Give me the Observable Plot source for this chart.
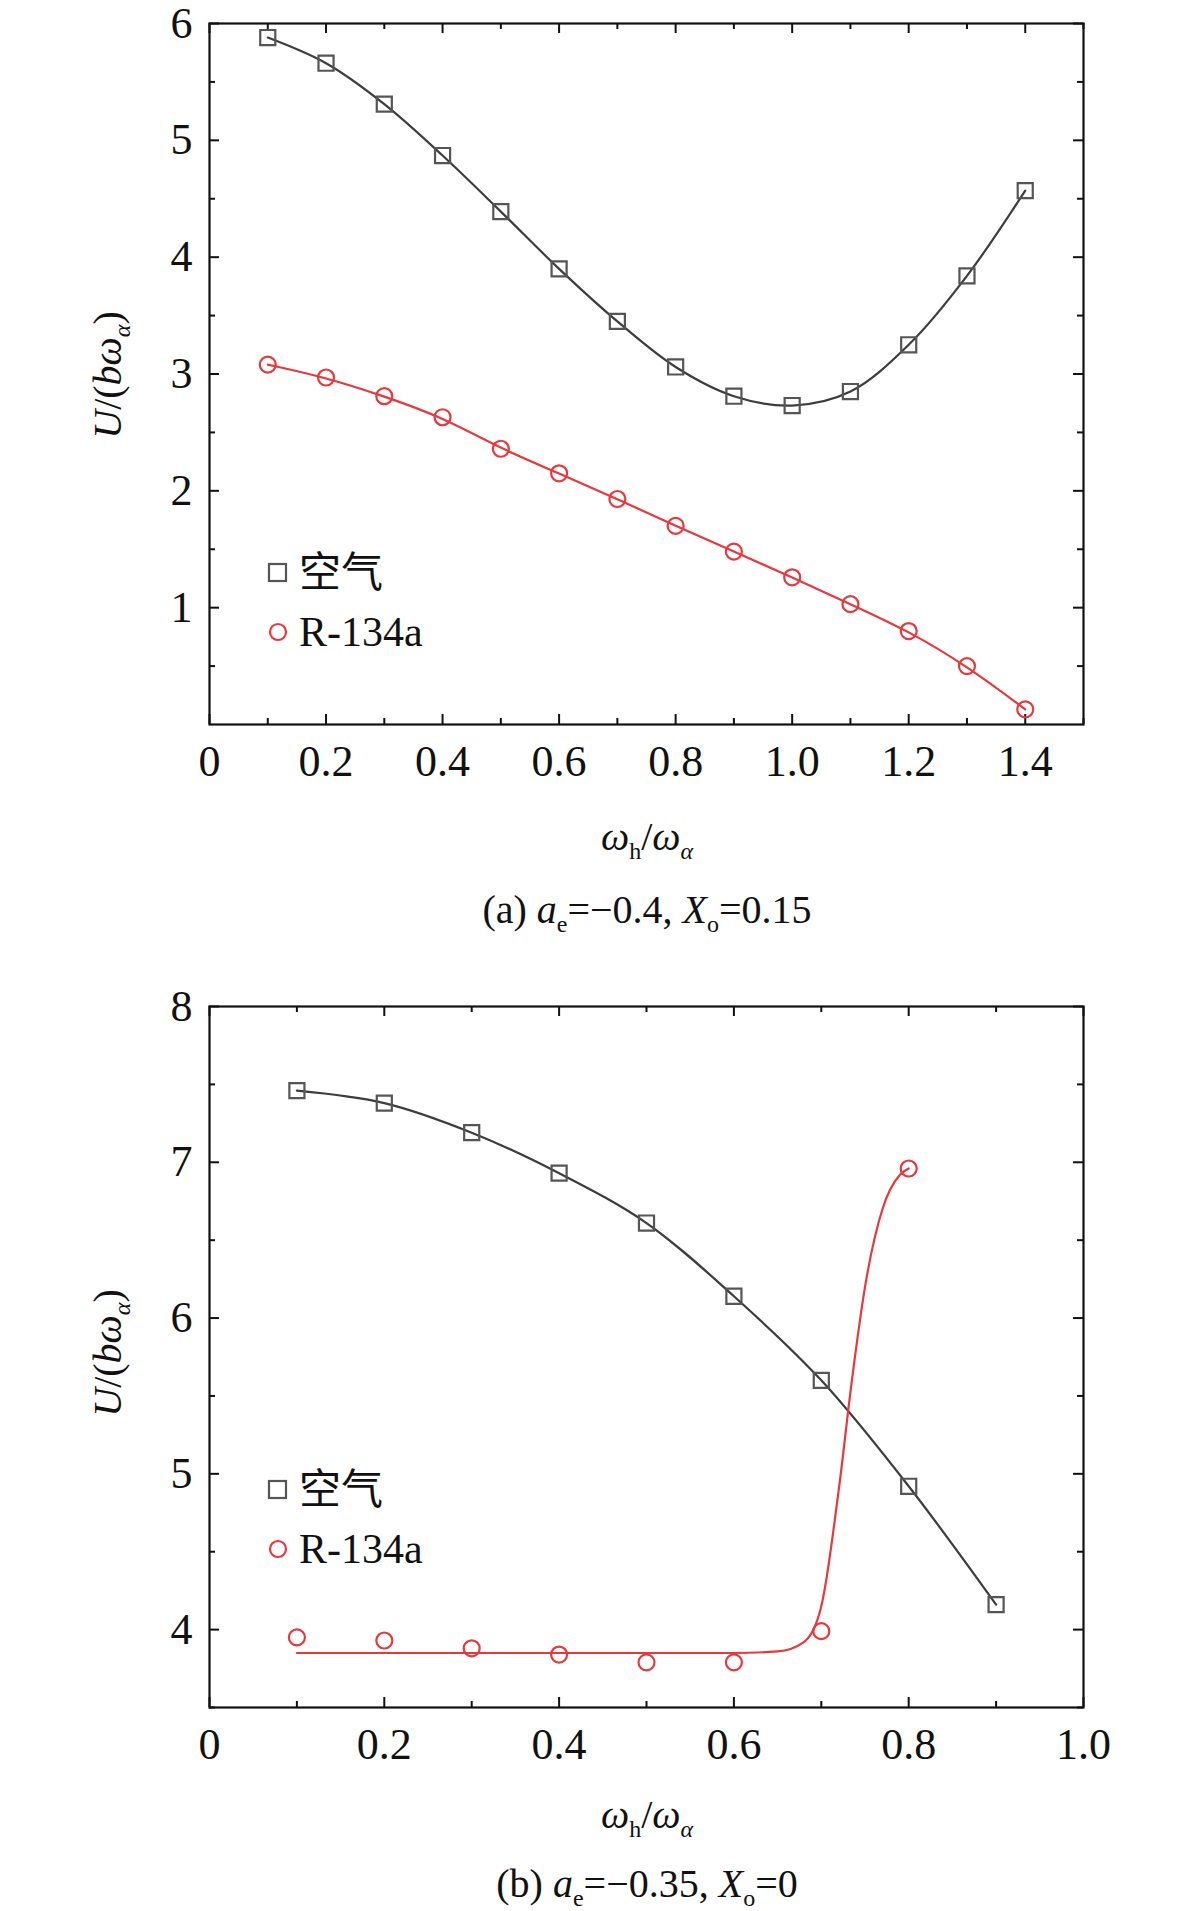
<!DOCTYPE html>
<html><head><meta charset="utf-8">
<script src="https://cdn.jsdelivr.net/npm/d3@7"></script>
<script src="https://cdn.jsdelivr.net/npm/@observablehq/plot@0.6"></script>
<style>
body{margin:0;background:#fff;font-family:"Liberation Serif","Times New Roman","Noto Sans CJK SC",serif;}
#wrap{position:relative;width:1181px;height:1911px;overflow:hidden;}
.abs{position:absolute;white-space:nowrap;color:#111;line-height:1.1;}
.abs sub{line-height:0;}
.ylab{font-size:40px;transform:translate(-50%,-50%) rotate(-90deg);}
.xlab{font-size:40px;transform:translateX(-50%);}
.cap{font-size:40px;transform:translateX(-50%);}
.leg{font-size:42px;display:flex;align-items:center;gap:10px;}
</style></head><body><div id="wrap"></div>
<script>
// ---- panel (a) data ----
const xA = [0.1,0.2,0.3,0.4,0.5,0.6,0.7,0.8,0.9,1.0,1.1,1.2,1.3,1.4];
const airA = [5.88,5.66,5.31,4.87,4.39,3.90,3.45,3.06,2.81,2.73,2.85,3.25,3.84,4.57];
const r134A = [3.08,2.97,2.81,2.63,2.36,2.15,1.93,1.70,1.48,1.26,1.03,0.80,0.50,0.13];
const xTicksA = [0,0.2,0.4,0.6,0.8,1.0,1.2,1.4];
const yTicksA = [1,2,3,4,5,6];
// ---- panel (b) data ----
const xB = [0.1,0.2,0.3,0.4,0.5,0.6,0.7,0.8,0.9];
const airB = [7.46,7.38,7.19,6.93,6.61,6.14,5.60,4.92,4.16];
const xBr = [0.1,0.2,0.3,0.4,0.5,0.6,0.7,0.8];
const r134B = [3.95,3.93,3.88,3.84,3.79,3.79,3.99,6.96];
const fitXB = [0.1,0.4,0.6,0.65,0.68,0.70,0.72,0.735,0.75,0.77,0.79,0.80];
const fitYB = [3.85,3.85,3.85,3.86,3.92,4.15,4.9,5.6,6.2,6.7,6.92,6.96];
const xTicksB = [0,0.2,0.4,0.6,0.8,1.0];
const yTicksB = [4,5,6,7,8];

const GRAY="#3d3d3d", RED="#e8383d";
const FONT='"Liberation Serif","Times New Roman",serif';
const wrap=document.getElementById("wrap");
const fmt = d => d===0 ? "0" : d3.format(".1f")(d);

function panel({top,xs,airY,xr,rY,fitX,fitY,xDom,yDom,xT,yT,xMinor,yMinor}){
  const air = xs.map((x,i)=>({x,y:airY[i]}));
  const r = xr.map((x,i)=>({x,y:rY[i]}));
  const fitR = fitX ? fitX.map((x,i)=>({x,y:fitY[i]})) : r;
  const ph = 701, pw = 874;
  const chart = Plot.plot({
    width:1181, height:800, marginLeft:209, marginRight:98, marginTop:23, marginBottom:76,
    style:{fontFamily:FONT,fontSize:"44px",color:"#111",overflow:"visible"},
    x:{domain:xDom}, y:{domain:yDom},
    marks:[
      Plot.axisX(xT,{tickSize:0,tickPadding:20,tickFormat:fmt,label:null,fontSize:44}),
      Plot.axisY(yT,{tickSize:0,tickPadding:17,tickFormat:d=>String(d),label:null,fontSize:44}),
      Plot.tickX(xT,{x:d=>d,insetTop:ph-10,stroke:"#111",strokeWidth:2}),
      Plot.tickX(xT,{x:d=>d,insetBottom:ph-10,stroke:"#111",strokeWidth:2}),
      Plot.tickX(xMinor,{x:d=>d,insetTop:ph-6,stroke:"#111",strokeWidth:2}),
      Plot.tickX(xMinor,{x:d=>d,insetBottom:ph-6,stroke:"#111",strokeWidth:2}),
      Plot.tickY(yT,{y:d=>d,insetRight:pw-10,stroke:"#111",strokeWidth:2}),
      Plot.tickY(yT,{y:d=>d,insetLeft:pw-10,stroke:"#111",strokeWidth:2}),
      Plot.tickY(yMinor,{y:d=>d,insetRight:pw-6,stroke:"#111",strokeWidth:2}),
      Plot.tickY(yMinor,{y:d=>d,insetLeft:pw-6,stroke:"#111",strokeWidth:2}),
      Plot.line(air,{x:"x",y:"y",curve:"catmull-rom",stroke:GRAY,strokeWidth:2.2}),
      Plot.line(fitR,{x:"x",y:"y",curve:fitX?"monotone-x":"basis",stroke:RED,strokeWidth:2.2}),
      Plot.dot(air,{x:"x",y:"y",symbol:"square",r:8.5,stroke:"#555",strokeWidth:2.2,fill:"none"}),
      Plot.dot(r,{x:"x",y:"y",symbol:"circle",r:8,stroke:RED,strokeWidth:2.2,fill:"none"}),
      Plot.frame({stroke:"#111",strokeWidth:2.2})
    ]
  });
  chart.style.position="absolute"; chart.style.left="0"; chart.style.top=top+"px";
  wrap.appendChild(chart);
}
const minorsX = (lo,hi)=>d3.range(Math.round(lo*10),Math.round(hi*10)+1).map(v=>v/10).filter(v=>Math.round(v*10)%2===1);
panel({top:0,xs:xA,airY:airA,xr:xA,rY:r134A,xDom:[0,1.5],yDom:[0,6],xT:xTicksA,yT:yTicksA,
  xMinor:minorsX(0.1,1.5),yMinor:[0.5,1.5,2.5,3.5,4.5,5.5]});
panel({top:983,xs:xB,airY:airB,xr:xBr,rY:r134B,fitX:fitXB,fitY:fitYB,xDom:[0,1],yDom:[3.5,8],xT:xTicksB,yT:yTicksB,
  xMinor:minorsX(0.1,0.9),yMinor:[3.5,4.5,5.5,6.5,7.5]});

function add(cls,html,left,top){const d=document.createElement("div");d.className="abs "+cls;d.innerHTML=html;d.style.left=left+"px";d.style.top=top+"px";wrap.appendChild(d);}
const S='<sub style="font-size:24px">';
const ylab='<i>U</i>/(<i>bω</i>'+S+'<i>α</i></sub>)';
const xlab='<i>ω</i>'+S+'h</sub>/<i>ω</i>'+S+'<i>α</i></sub>';
add("ylab",ylab,108,375);
add("ylab",ylab,108,1353);
add("xlab",xlab,647,815);
add("xlab",xlab,647,1793);
add("cap",'(a) <i>a</i>'+S+'e</sub>=−0.4, <i>X</i>'+S+'o</sub>=0.15',647,888);
add("cap",'(b) <i>a</i>'+S+'e</sub>=−0.35, <i>X</i>'+S+'o</sub>=0',647,1862);
const sq='<svg width="22" height="22"><rect x="2" y="2" width="17" height="17" fill="none" stroke="#555" stroke-width="2.2"/></svg>';
const ci='<svg width="22" height="22"><circle cx="11" cy="11" r="8" fill="none" stroke="'+RED+'" stroke-width="2.2"/></svg>';
add("leg",sq+'<span>空气</span>',267,550);
add("leg",ci+'<span>R-134a</span>',267,609);
add("leg",sq+'<span>空气</span>',267,1467);
add("leg",ci+'<span>R-134a</span>',267,1526);
</script></body></html>
